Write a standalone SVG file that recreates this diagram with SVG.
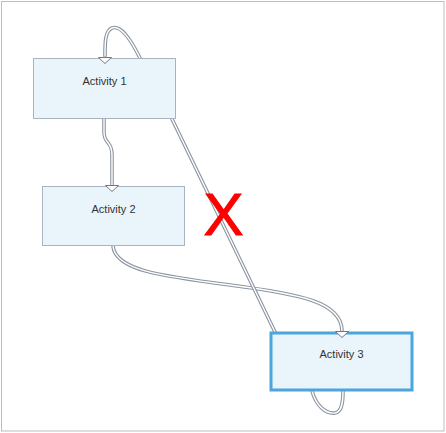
<svg xmlns="http://www.w3.org/2000/svg" xmlns:xlink="http://www.w3.org/1999/xlink" width="446" height="433" viewBox="0 0 446 433">
<style>
.frame{fill:#ffffff;stroke:#bdbdbd;stroke-width:1}
.box{fill:#eaf4fb;stroke:#a9b4c2;stroke-width:1}
.sel{fill:#eaf4fb;stroke:#4ba6dd;stroke-width:3}
.lbl{font-family:"Liberation Sans",Arial,sans-serif;font-size:11px;fill:#333333;text-anchor:middle}
.wo{fill:none;stroke:#8c95a2;stroke-width:3.6;stroke-linecap:round}
.wi{fill:none;stroke:#ffffff;stroke-width:1.4;stroke-linecap:round}
.ah{fill:#ffffff;stroke:#6f7885;stroke-width:1;stroke-linejoin:miter}
</style>
<defs>
<path id="c1" d="M140,58 C129,36 120,25 112,28 C105,31 105,42 105,56"/>
<path id="c2" d="M104,119 L104,132 C104,145 112,140 112,155 L112,185"/>
<path id="c3" d="M113,246 C115,270 160,276 230,285 C300,294 342,302 342,331"/>
<path id="c4" d="M172,119 L275,332"/>
<path id="c5" d="M312,391 C316,405 325,414 335,413 C342,412 343,402 343,391"/>
</defs>
<rect class="frame" x="1.5" y="1.5" width="442.5" height="429.5"/>
<g id="connectors">
<use xlink:href="#c1" class="wo"/><use xlink:href="#c1" class="wi"/>
<use xlink:href="#c2" class="wo"/><use xlink:href="#c2" class="wi"/>
<use xlink:href="#c3" class="wo"/><use xlink:href="#c3" class="wi"/>
<use xlink:href="#c4" class="wo"/><use xlink:href="#c4" class="wi"/>
<use xlink:href="#c5" class="wo"/><use xlink:href="#c5" class="wi"/>
</g>
<g id="activity1">
<rect class="box" x="33.5" y="58.5" width="142" height="60"/>
<text class="lbl" x="104.5" y="85">Activity 1</text>
</g>
<g id="activity2">
<rect class="box" x="42.5" y="186.5" width="142" height="59"/>
<text class="lbl" x="113.5" y="213">Activity 2</text>
</g>
<g id="activity3">
<rect class="sel" x="271" y="333" width="141" height="57"/>
<text class="lbl" x="341.5" y="358">Activity 3</text>
</g>
<g id="arrowheads">
<polygon class="ah" points="98.5,57.5 111.5,57.5 105,63.5"/>
<polygon class="ah" points="105.5,185.5 118.5,185.5 112,191.5"/>
<polygon class="ah" points="335.5,331.5 348.5,331.5 342,337.5"/>
</g>
<g id="invalid-mark">
<text x="223.5" y="235" style="font-family:'Liberation Sans',Arial,sans-serif;font-size:60px;fill:#ff0000;stroke:#ff0000;stroke-width:1;text-anchor:middle">X</text>
</g>
</svg>
